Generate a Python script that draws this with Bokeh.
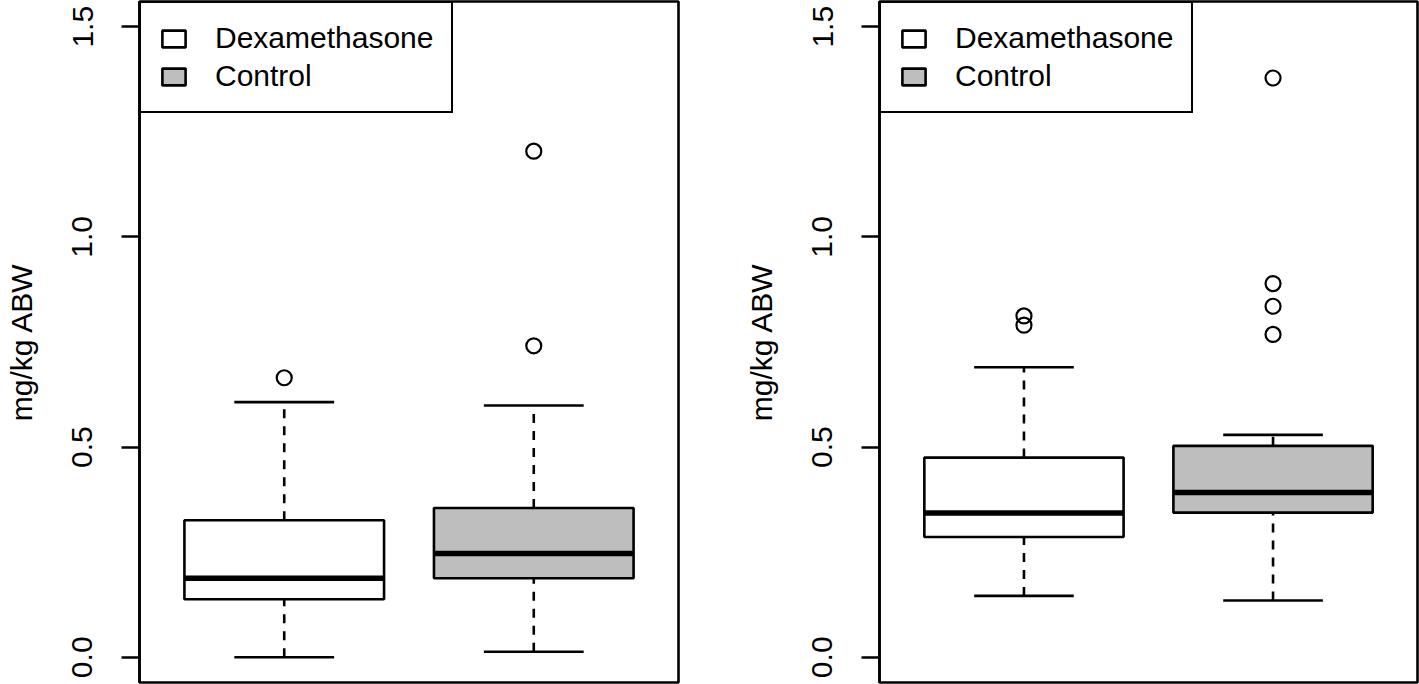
from bokeh.plotting import figure
from bokeh.models import Range1d, FixedTicker, Legend, LegendItem, NumeralTickFormatter
from bokeh.layouts import row
from bokeh.embed import file_html
from bokeh.resources import INLINE

# ---- data ----
groups = ["Dexamethasone", "Control"]
positions = [1, 2]
fills = ["#FFFFFF", "#BEBEBE"]

# left panel
a_lower = [0.000, 0.013]
a_q1 = [0.138, 0.188]
a_median = [0.188, 0.247]
a_q3 = [0.326, 0.355]
a_upper = [0.607, 0.599]
a_out_x = [1, 2, 2]
a_out_y = [0.665, 0.741, 1.204]

# right panel
b_lower = [0.146, 0.135]
b_q1 = [0.286, 0.344]
b_median = [0.343, 0.392]
b_q3 = [0.475, 0.503]
b_upper = [0.690, 0.529]
b_out_x = [1, 1, 2, 2, 2, 2]
b_out_y = [0.790, 0.812, 0.768, 0.835, 0.889, 1.378]

y_ticks = [0.0, 0.5, 1.0, 1.5]
y_tick_labels = ["0.0", "0.5", "1.0", "1.5"]
y_label = "mg/kg ABW"

FONT = "Liberation Sans"
FS = "30px"
LW = 2.6
BOXW = 0.8


def make_panel(lower, q1, med, q3, upper, out_x, out_y, border_left, frame_w, border_right):
    p = figure(frame_width=frame_w, frame_height=681,
               min_border_left=border_left, min_border_right=border_right,
               min_border_top=1, min_border_bottom=2,
               x_range=Range1d(0.42, 2.58), y_range=Range1d(-0.06, 1.56),
               output_backend="svg", toolbar_location=None, x_axis_location=None)
    p.xgrid.visible = False
    p.ygrid.visible = False
    p.outline_line_color = "black"
    p.outline_line_width = 2.6
    p.outline_line_alpha = 1.0

    half = BOXW / 2
    cap = BOXW / 4
    # whiskers (dashed)
    p.segment(x0=positions, x1=positions, y0=q3, y1=upper, line_color="black",
              line_width=LW, line_dash="9 8")
    p.segment(x0=positions, x1=positions, y0=lower, y1=q1, line_color="black",
              line_width=LW, line_dash="9 8")
    # caps
    p.segment(x0=[x - cap for x in positions], x1=[x + cap for x in positions],
              y0=upper, y1=upper, line_color="black", line_width=LW)
    p.segment(x0=[x - cap for x in positions], x1=[x + cap for x in positions],
              y0=lower, y1=lower, line_color="black", line_width=LW)
    # boxes
    boxes = p.vbar(x=positions, width=BOXW, bottom=q1, top=q3, fill_color=fills,
                   line_color="black", line_width=LW)
    # medians
    p.segment(x0=[x - half for x in positions], x1=[x + half for x in positions],
              y0=med, y1=med, line_color="black", line_width=5.5, line_cap="butt")
    # outliers
    p.scatter(x=out_x, y=out_y, marker="circle", size=15, fill_color=None,
              line_color="black", line_width=2.2)

    ax = p.yaxis[0]
    ax.ticker = FixedTicker(ticks=y_ticks)
    ax.formatter = NumeralTickFormatter(format="0.0")
    ax.major_label_overrides = dict(zip(y_ticks, y_tick_labels))
    ax.major_label_orientation = "vertical"
    ax.major_tick_out = 18
    ax.major_tick_in = 0
    ax.minor_tick_out = 0
    ax.minor_tick_in = 0
    ax.major_tick_line_width = LW
    ax.axis_line_width = LW
    ax.major_label_standoff = 29
    ax.major_label_text_font = FONT
    ax.major_label_text_font_size = FS
    ax.major_label_text_color = "black"
    ax.axis_label = y_label
    ax.axis_label_standoff = 32
    ax.axis_label_text_font = FONT
    ax.axis_label_text_font_size = FS
    ax.axis_label_text_font_style = "normal"
    ax.axis_label_text_color = "black"

    legend = Legend(items=[LegendItem(label=groups[i], renderers=[boxes], index=i)
                           for i in range(len(groups))],
                    location="top_left")
    legend.margin = 0
    legend.padding = 18
    legend.spacing = 4
    legend.glyph_width = 29
    legend.glyph_height = 21
    legend.label_standoff = 27
    legend.label_text_font = FONT
    legend.label_text_font_size = FS
    legend.label_text_color = "black"
    legend.border_line_color = "black"
    legend.border_line_width = LW
    legend.border_line_alpha = 1.0
    legend.background_fill_color = "white"
    legend.background_fill_alpha = 1.0
    p.add_layout(legend)
    return p


p1 = make_panel(a_lower, a_q1, a_median, a_q3, a_upper, a_out_x, a_out_y, 139, 539, 10)
p2 = make_panel(b_lower, b_q1, b_median, b_q3, b_upper, b_out_x, b_out_y, 191, 538, 2)

layout = row(p1, p2)
open("out.html", "w").write(file_html(layout, INLINE))
